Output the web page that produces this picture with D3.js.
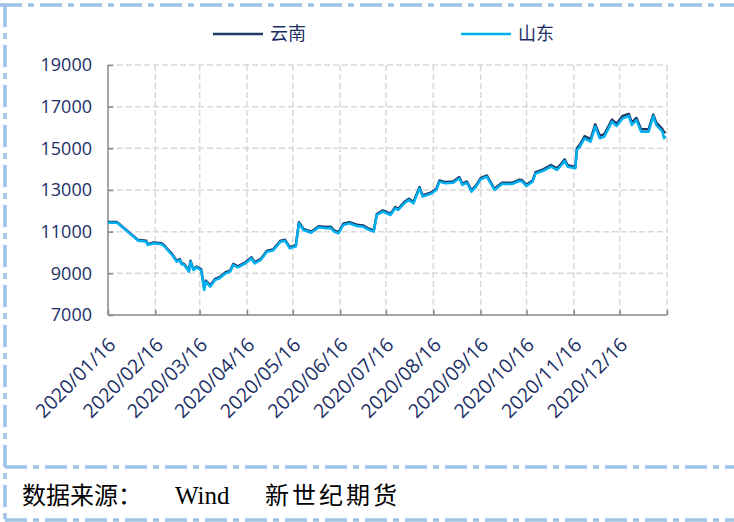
<!DOCTYPE html>
<html>
<head>
<meta charset="utf-8">
<script src="https://cdn.jsdelivr.net/npm/d3@7/dist/d3.min.js"></script>
<style>
  html, body { margin: 0; padding: 0; background: #ffffff; }
  svg { display: block; }
</style>
</head>
<body>
<svg id="chart" width="734" height="522"></svg>
<script>
// Trading dates and prices (元/吨) for the two producing regions
const dates = ["2020-01-16","2020-01-22","2020-02-05","2020-02-06","2020-02-10","2020-02-11","2020-02-15","2020-02-20","2020-02-22","2020-02-24","2020-02-27","2020-03-01","2020-03-03","2020-03-04","2020-03-06","2020-03-09","2020-03-10","2020-03-12","2020-03-14","2020-03-16","2020-03-17","2020-03-19","2020-03-20","2020-03-23","2020-03-26","2020-03-29","2020-04-02","2020-04-05","2020-04-07","2020-04-10","2020-04-15","2020-04-19","2020-04-21","2020-04-25","2020-04-27","2020-04-29","2020-05-03","2020-05-08","2020-05-11","2020-05-14","2020-05-18","2020-05-20","2020-05-23","2020-05-28","2020-06-02","2020-06-07","2020-06-10","2020-06-12","2020-06-15","2020-06-18","2020-06-22","2020-06-27","2020-07-01","2020-07-04","2020-07-08","2020-07-10","2020-07-14","2020-07-19","2020-07-22","2020-07-24","2020-07-28","2020-07-31","2020-08-03","2020-08-07","2020-08-09","2020-08-15","2020-08-18","2020-08-20","2020-08-24","2020-08-29","2020-09-02","2020-09-04","2020-09-07","2020-09-10","2020-09-13","2020-09-16","2020-09-20","2020-09-25","2020-09-30","2020-10-07","2020-10-11","2020-10-13","2020-10-16","2020-10-20","2020-10-22","2020-10-27","2020-10-29","2020-11-01","2020-11-05","2020-11-08","2020-11-10","2020-11-12","2020-11-17","2020-11-18","2020-11-20","2020-11-23","2020-11-27","2020-11-30","2020-12-03","2020-12-06","2020-12-11","2020-12-14","2020-12-18","2020-12-22","2020-12-24","2020-12-27","2020-12-30","2021-01-04","2021-01-07","2021-01-09","2021-01-13","2021-01-14","2021-01-15"];

const yunnan = [11460,11460,10580,10600,10560,10400,10480,10440,10340,10160,9920,9600,9680,9500,9440,9130,9600,9200,9330,9240,9200,8280,8650,8420,8730,8810,9050,9130,9450,9340,9530,9770,9530,9690,9880,10090,10140,10570,10610,10250,10350,11450,11130,11000,11260,11220,11240,11060,10980,11380,11460,11330,11300,11170,11060,11850,12020,11860,12180,12100,12420,12580,12420,13140,12740,12900,13060,13460,13380,13410,13620,13300,13410,12980,13220,13570,13700,13060,13350,13350,13490,13480,13250,13460,13860,13990,14080,14200,14040,14280,14470,14190,14100,15000,15180,15580,15440,16150,15600,15680,16380,16180,16560,16650,16230,16460,15920,15920,16620,16240,15920,15760,15800];

const shandong = [11430,11430,10550,10560,10520,10360,10440,10400,10300,10120,9880,9560,9640,9450,9400,9080,9560,9160,9290,9190,9160,8200,8600,8360,8680,8760,9000,9080,9400,9290,9480,9720,9480,9640,9830,10040,10090,10520,10560,10200,10300,11400,11080,10950,11210,11160,11180,11000,10920,11320,11400,11270,11240,11110,11000,11800,11960,11800,12120,12040,12360,12520,12360,13080,12680,12840,13000,13400,13320,13350,13560,13240,13350,12920,13160,13510,13640,13000,13290,13290,13430,13420,13190,13400,13800,13920,14000,14120,13960,14200,14400,14120,14040,14920,15080,15480,15320,16040,15480,15560,16280,16070,16440,16550,16120,16360,15800,15800,16550,16120,15800,15480,15600];

const seriesNames = ["云南", "山东"];
const seriesColors = ["#1f3864", "#00b0f0"];

const yTicks = [7000, 9000, 11000, 13000, 15000, 17000, 19000];
const xTickDates = ["2020-01-16","2020-02-16","2020-03-16","2020-04-16","2020-05-16","2020-06-16","2020-07-16","2020-08-16","2020-09-16","2020-10-16","2020-11-16","2020-12-16","2021-01-16"];
const xTickLabels = ["2020/01/16","2020/02/16","2020/03/16","2020/04/16","2020/05/16","2020/06/16","2020/07/16","2020/08/16","2020/09/16","2020/10/16","2020/11/16","2020/12/16",""];

const sourceParts = ["数据来源：", "Wind", "新世纪期货"];

// ---- layout ----
const svg = d3.select("#chart");
const W = 734, H = 522;
const plot = { left: 108, right: 667, top: 65, bottom: 315 };
const axisColor = "#868686";
const gridColor = "#d9d9d9";
const textColor = "#1b2f66";
const frameColor = "#9dc3e6";

const parse = d3.utcParse("%Y-%m-%d");
const x = d3.scaleUtc()
  .domain([parse(xTickDates[0]), parse(xTickDates[xTickDates.length - 1])])
  .range([plot.left, plot.right]);
const y = d3.scaleLinear().domain([7000, 19000]).range([plot.bottom, plot.top]);

// ---- dash-dot outer frame ----
const frame = svg.append("g")
  .attr("stroke", frameColor)
  .attr("stroke-width", 3.5)
  .attr("stroke-dasharray", "22,6,6,6")
  .attr("fill", "none");
frame.append("line").attr("x1", 0).attr("x2", W).attr("y1", 5).attr("y2", 5);
frame.append("line").attr("x1", 5).attr("x2", 5).attr("y1", 5).attr("y2", H);
frame.append("line").attr("x1", 5).attr("x2", W).attr("y1", 467).attr("y2", 467);
frame.append("line").attr("x1", 5).attr("x2", W).attr("y1", 520).attr("y2", 520);

// ---- gridlines ----
const grid = svg.append("g")
  .attr("stroke", gridColor)
  .attr("stroke-width", 1.5)
  .attr("stroke-dasharray", "6,3");
grid.selectAll("line.h")
  .data(yTicks.slice(1))
  .join("line")
  .attr("x1", plot.left).attr("x2", plot.right)
  .attr("y1", d => y(d)).attr("y2", d => y(d));
grid.selectAll("line.v")
  .data(xTickDates.slice(1))
  .join("line")
  .attr("x1", d => x(parse(d))).attr("x2", d => x(parse(d)))
  .attr("y1", plot.top).attr("y2", plot.bottom);

// ---- axes ----
const yAxis = svg.append("g")
  .attr("transform", `translate(${plot.left},0)`)
  .call(d3.axisRight(y).tickValues(yTicks).tickSize(5).tickFormat(""));
yAxis.select(".domain").attr("d", `M0,${plot.top}V${plot.bottom}`);
yAxis.selectAll("path, line").attr("stroke", axisColor).attr("stroke-width", 1.5);

svg.append("g")
  .selectAll("text")
  .data(yTicks)
  .join("text")
  .attr("x", 92)
  .attr("y", d => y(d))
  .attr("dy", "0.36em")
  .attr("text-anchor", "end")
  .attr("fill", textColor)
  .attr("font-family", "'Open Sans', 'DejaVu Sans', sans-serif")
  .attr("font-size", 18)
  .text(d => d);

const xAxis = svg.append("g")
  .attr("transform", `translate(0,${plot.bottom})`)
  .call(d3.axisTop(x).tickValues(xTickDates.map(parse)).tickSize(5).tickFormat(""));
xAxis.select(".domain").attr("d", `M${plot.left},0H${plot.right}`);
xAxis.selectAll("path, line").attr("stroke", axisColor).attr("stroke-width", 1.5);

svg.append("g")
  .selectAll("text")
  .data(xTickDates.map((d, i) => ({ d: parse(d), label: xTickLabels[i] })))
  .join("text")
  .attr("transform", t => `translate(${x(t.d) + 9},${plot.bottom + 31}) rotate(-45)`)
  .attr("text-anchor", "end")
  .attr("fill", textColor)
  .attr("font-family", "'Open Sans', 'DejaVu Sans', sans-serif")
  .attr("font-size", 19.5)
  .text(t => t.label);

// ---- series lines ----
const line = d3.line()
  .x(d => x(d.date))
  .y(d => y(d.value));

[yunnan, shandong].forEach((vals, i) => {
  const pts = vals.map((v, k) => ({ date: parse(dates[k]), value: v }));
  svg.append("path")
    .datum(pts)
    .attr("fill", "none")
    .attr("stroke", seriesColors[i])
    .attr("stroke-width", 2.5)
    .attr("stroke-linejoin", "round")
    .attr("d", line);
});

// ---- legend ----
const legendX = [213, 461];
const legend = svg.append("g");
seriesNames.forEach((name, i) => {
  legend.append("line")
    .attr("x1", legendX[i]).attr("x2", legendX[i] + 50)
    .attr("y1", 34).attr("y2", 34)
    .attr("stroke", seriesColors[i])
    .attr("stroke-width", 2.5);
  legend.append("text")
    .attr("x", legendX[i] + 57)
    .attr("y", 34)
    .attr("dy", "0.36em")
    .attr("fill", textColor)
    .attr("font-family", "'Noto Sans CJK SC', sans-serif")
    .attr("font-size", 18)
    .text(name);
});

// ---- source note ----
const note = svg.append("g").attr("fill", "#000000").attr("font-size", 24);
note.append("text")
  .attr("x", 22).attr("y", 504)
  .attr("font-family", "'Noto Sans CJK SC', serif")
  .text(sourceParts[0]);
note.append("text")
  .attr("x", 175).attr("y", 504)
  .attr("font-family", "'Liberation Serif', 'DejaVu Serif', serif")
  .attr("font-size", 25)
  .text(sourceParts[1]);
note.append("text")
  .attr("x", 265).attr("y", 504)
  .attr("font-family", "'Noto Sans CJK SC', serif")
  .attr("letter-spacing", 3)
  .text(sourceParts[2]);
</script>
</body>
</html>
